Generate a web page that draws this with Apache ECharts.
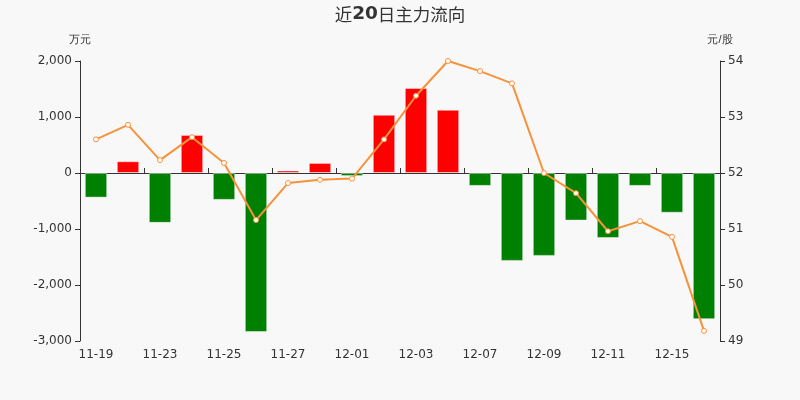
<!DOCTYPE html>
<html><head><meta charset="utf-8">
<script src="https://cdn.jsdelivr.net/npm/echarts@6/dist/echarts.min.js"></script>
<style>html,body{margin:0;padding:0;background:#f8f8f8}#c{width:800px;height:400px}</style>
</head><body><div id="c"></div>
<script>
var categories = ['11-19','11-20','11-23','11-24','11-25','11-26','11-27','11-30','12-01','12-02','12-03','12-04','12-07','12-08','12-09','12-10','12-11','12-14','12-15','12-16'];
var flowValues = [-440, 210, -890, 680, -480, -2840, 45, 180, -55, 1040, 1520, 1130, -230, -1570, -1480, -850, -1160, -230, -710, -2610];
var priceValues = [52.60, 52.86, 52.23, 52.64, 52.18, 51.16, 51.82, 51.88, 51.90, 52.60, 53.38, 54.00, 53.82, 53.60, 52.00, 51.64, 50.96, 51.14, 50.86, 49.18];
var leftTicks = {min: -3000, max: 2000, interval: 1000};
var rightTicks = {min: 49, max: 54, interval: 1};

var chart = echarts.init(document.getElementById('c'));
var axisTxt = {color: '#333', fontSize: 12, fontFamily: 'DejaVu Sans, sans-serif'};
chart.setOption({
  backgroundColor: '#f8f8f8',
  animation: false,
  title: {
    text: '{c|近}{d|20}{c|日主力流向}', left: 'center', top: 0,
    textStyle: {
      fontSize: 18, color: '#333',
      rich: {
        c: {fontSize: 17.5, fontWeight: 'normal', color: '#333', fontFamily: 'Noto Sans CJK SC, sans-serif'},
        d: {fontSize: 18.5, fontWeight: 'bold', color: '#333', fontFamily: 'DejaVu Sans, sans-serif'}
      }
    }
  },
  grid: {left: 80, right: 80, top: 61, bottom: 59},
  xAxis: [{
    type: 'category', data: categories,
    axisLine: {show: false, onZero: false}, axisTick: {show: false},
    axisLabel: Object.assign({interval: 1, margin: 8}, axisTxt)
  }, {
    type: 'category', data: categories,
    axisLine: {show: true, onZero: true, onZeroAxisIndex: 0, lineStyle: {color: '#333'}},
    axisTick: {show: true, interval: 1, lineStyle: {color: '#333'}},
    axisLabel: {show: false}
  }],
  yAxis: [{
    type: 'value', name: '万元', min: leftTicks.min, max: leftTicks.max, interval: leftTicks.interval,
    nameTextStyle: {color: '#333', fontSize: 11, align: 'center'}, nameGap: 16,
    axisLine: {show: true, lineStyle: {color: '#333'}}, axisTick: {show: true},
    splitLine: {show: false},
    axisLabel: axisTxt
  }, {
    type: 'value', name: '元/股', min: rightTicks.min, max: rightTicks.max, interval: rightTicks.interval,
    position: 'right',
    nameTextStyle: {color: '#333', fontSize: 11, align: 'center'}, nameGap: 16,
    axisLine: {show: true, lineStyle: {color: '#333'}}, axisTick: {show: true},
    splitLine: {show: false},
    axisLabel: axisTxt
  }],
  series: [{
    type: 'bar', xAxisIndex: 0, yAxisIndex: 0, data: flowValues, barWidth: '70%',
    itemStyle: {
      color: function (p) { return p.value >= 0 ? '#ff0000' : '#008000'; },
      borderWidth: 1,
      borderColor: 'rgba(255,255,255,0.45)'
    }
  }, {
    type: 'line', xAxisIndex: 0, yAxisIndex: 1, data: priceValues,
    symbol: 'circle', symbolSize: 5, showAllSymbol: true,
    lineStyle: {color: '#f7923a', width: 2},
    itemStyle: {color: '#ffffff', borderColor: '#f7923a', borderWidth: 1}
  }]
});
</script></body></html>
